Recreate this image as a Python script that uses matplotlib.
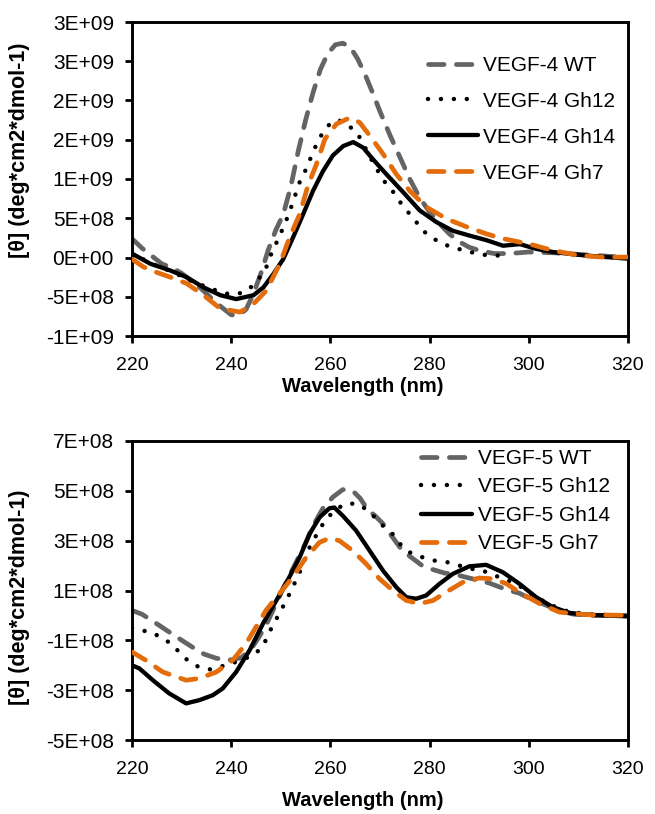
import matplotlib
matplotlib.use("Agg")
import matplotlib.pyplot as plt
import numpy as np

plt.rcParams['font.family'] = ['Liberation Sans', 'DejaVu Sans']

# ---------------- Top panel (VEGF-4), values in units of 1e8 ----------------
top_wt_x = [220, 222, 224, 226, 228, 230, 232, 234, 236, 238, 240, 241.5, 243, 244.5, 246, 247.5,
            249, 250.5, 252, 253.5, 255, 256.5, 258, 259.5, 261, 262.5, 264, 265.5, 267, 268.5,
            270, 272, 274, 276, 278, 280, 282, 284, 286, 288, 290, 293, 296, 300, 305, 310, 315, 320]
top_wt_y = [2.4, 1.2, 0.2, -0.8, -1.3, -2.0, -3.0, -4.0, -5.2, -6.3, -7.3, -7.4, -6.6, -4.6, -2.0, 1.0,
            3.5, 5.5, 9.0, 13.5, 17.5, 21.0, 24.0, 26.0, 27.1, 27.3, 26.8, 25.3, 23.3, 21.0,
            18.6, 15.6, 12.8, 10.0, 7.6, 5.8, 4.3, 3.0, 2.0, 1.3, 0.9, 0.5, 0.5, 0.7, 0.6, 0.4, 0.2, 0.0]

top_gh12_x = [220, 224, 228, 232, 236, 239, 241, 243, 244.5, 245.8, 247.1, 248.1, 249.2, 250.2, 251.2,
              252.2, 253, 253.8, 254.9, 255.9, 256.9, 257.9, 259.2, 260.9, 262, 263, 264, 265, 266,
              267, 268, 269, 270, 271, 272.5, 274, 275.5, 277, 278.5, 280.5, 282.5, 284.5, 287,
              289.5, 292, 294.5]
top_gh12_y = [0.5, -0.8, -1.8, -3.0, -4.0, -4.6, -4.7, -4.3, -3.5, -2.5, -1.2, 0.5, 2.0, 3.4, 4.9,
              6.6, 8.1, 9.6, 11.0, 12.5, 14.0, 15.3, 16.6, 17.5, 17.4, 17.0, 16.6, 16.2, 15.2,
              14.0, 12.8, 11.6, 10.6, 9.6, 8.5, 7.1, 5.9, 4.8, 3.5, 2.5, 1.8, 1.3, 0.9,
              0.5, 0.25, 0.25]

top_gh14_x = [220, 223.7, 227.7, 231, 234.4, 237.8, 241, 244.5, 246.5, 248.5, 250.5, 252.5, 254.5,
              256.5, 258.5, 260.5, 262.6, 264.6, 266.6, 268.6, 271.3, 274.7, 278, 281.4, 284.7,
              288, 291.5, 294.8, 298.2, 301.5, 304.8, 311.5, 320]
top_gh14_y = [0.5, -0.8, -1.65, -2.5, -3.8, -4.8, -5.3, -4.8, -3.8, -2.1, -0.2, 2.6, 5.5,
              8.5, 11.0, 13.0, 14.2, 14.7, 14.0, 12.5, 10.6, 8.3, 6.0, 4.5, 3.4,
              2.8, 2.2, 1.5, 1.7, 1.1, 0.7, 0.25, -0.15]

top_gh7_x = [220, 222.3, 225, 227.7, 231, 234.4, 237.8, 241.8, 244.5, 247.1, 249.8, 251.8, 253.8,
             255.5, 257.2, 258.9, 261.2, 263.9, 265.9, 268.2, 270.6, 273.3, 276, 279.4, 283.5,
             287.5, 291.5, 294.8, 300.2, 304.8, 310.2, 314.9, 320]
top_gh7_y = [-0.2, -1.2, -1.9, -2.5, -3.3, -4.8, -6.5, -6.95, -5.9, -4.2, -0.8, 2.6, 5.5,
             9.2, 11.9, 15.1, 17.0, 17.8, 17.2, 15.3, 13.2, 10.6, 8.5, 6.4, 4.9,
             3.9, 3.0, 2.4, 1.7, 0.9, 0.25, 0.05, 0.05]

top_yticks = [-1e9, -5e8, 0, 5e8, 1e9, 1.5e9, 2e9, 2.5e9, 3e9]
top_yticklabels = ['-1E+09', '-5E+08', '0E+00', '5E+08', '1E+09', '2E+09', '2E+09', '3E+09', '3E+09']
top_labels = ['VEGF-4 WT', 'VEGF-4 Gh12', 'VEGF-4 Gh14', 'VEGF-4 Gh7']

# ---------------- Bottom panel (VEGF-5), values in units of 1e8 ----------------
bot_wt_x = [220, 222, 224.5, 227, 229.5, 232, 234.5, 237, 239.5, 242, 244, 245.5, 247, 249, 251,
            253, 255, 256.5, 258.5, 260.5, 262.5, 264.5, 266, 267.5, 269, 270.5, 272.5, 274.5,
            276.5, 278.5, 280.5, 283, 285, 288, 290, 292, 294, 296, 298, 300, 303, 306, 309, 312, 320]
bot_wt_y = [0.2, 0.05, -0.27, -0.6, -0.93, -1.25, -1.55, -1.72, -1.8, -1.7, -1.35, -0.9, -0.4, 0.45, 1.3,
            2.1, 2.9, 3.6, 4.3, 4.75, 5.05, 5.0, 4.7, 4.25, 4.0, 3.7, 3.15, 2.6,
            2.3, 2.0, 1.85, 1.7, 1.65, 1.5, 1.4, 1.3, 1.15, 1.0, 0.9, 0.7, 0.45, 0.2, 0.05, 0.0, 0.0]

bot_gh12_x = [220, 222, 224.2, 226.2, 227.9, 229.5, 231.2, 233.2, 235.6, 238, 240.5, 242.5, 244.5,
              246.4, 247.4, 248.5, 249.7, 250.9, 252.1, 253.8, 255.8, 257.1, 258.5, 259.8, 261.5,
              263.2, 265.5, 267.5, 270.6, 272.3, 274.6, 276, 278.6, 281, 283.7, 286, 288.4, 290.7,
              293.1, 295.1, 298, 301, 304, 308, 312, 318, 320]
bot_gh12_y = [-0.5, -0.6, -0.7, -0.93, -1.13, -1.47, -1.8, -2.04, -2.17, -2.05, -1.9, -1.75, -1.6,
              -1.24, -0.8, -0.35, 0.07, 0.53, 1.0, 1.73, 2.73, 3.2, 3.67, 4.0, 4.3,
              4.5, 4.47, 4.23, 3.6, 3.33, 2.73, 2.53, 2.33, 2.2, 2.13, 2.0, 1.87, 1.8,
              1.6, 1.47, 1.2, 0.8, 0.45, 0.15, 0.05, 0.0, 0.0]

bot_gh14_x = [220, 221.5, 224.2, 227.5, 230.9, 233.6, 236.3, 238.3, 241, 243.7, 246.4, 249.1, 251.7,
              253.8, 255.8, 257.8, 259.8, 260.8, 262.5, 265.2, 267.9, 270.6, 273.3, 275.3, 277.3,
              279.3, 282, 284.7, 288, 291.4, 294.8, 298.1, 301.5, 304.9, 308.2, 311.6, 320]
bot_gh14_y = [-2.0, -2.13, -2.6, -3.13, -3.53, -3.4, -3.2, -2.93, -2.27, -1.4, -0.33, 0.6, 1.53,
              2.33, 3.27, 3.93, 4.3, 4.33, 4.0, 3.4, 2.6, 1.8, 1.13, 0.73, 0.67,
              0.8, 1.27, 1.67, 1.97, 2.03, 1.73, 1.27, 0.73, 0.33, 0.1, 0.03, -0.04]

bot_gh7_x = [220, 222.8, 226.2, 230.9, 233.6, 237, 240.3, 243, 245, 247, 249.7, 252.4, 255.1,
             257.8, 259.8, 261.8, 264.5, 267.2, 269.9, 272.6, 275.3, 278, 280.7, 283.3, 286.7,
             290, 292.8, 295.5, 298.1, 302.2, 306.2, 311.6, 320]
bot_gh7_y = [-1.47, -1.8, -2.27, -2.6, -2.53, -2.27, -1.8, -1.13, -0.47, 0.2, 0.87, 1.53, 2.33,
             2.93, 3.1, 3.0, 2.6, 2.07, 1.47, 1.0, 0.6, 0.47, 0.6, 0.93, 1.33,
             1.5, 1.47, 1.27, 0.93, 0.47, 0.13, 0.03, 0.0]

bot_yticks = [-5e8, -3e8, -1e8, 1e8, 3e8, 5e8, 7e8]
bot_yticklabels = ['-5E+08', '-3E+08', '-1E+08', '1E+08', '3E+08', '5E+08', '7E+08']
bot_labels = ['VEGF-5 WT', 'VEGF-5 Gh12', 'VEGF-5 Gh14', 'VEGF-5 Gh7']

xticks = [220, 240, 260, 280, 300, 320]
xticklabels = ['220', '240', '260', '280', '300', '320']
xlabel = 'Wavelength (nm)'
ylabel = '[θ] (deg*cm2*dmol-1)'

GRAY = '#646464'
ORANGE = '#E46C0A'
SCALE = 1e8

fig = plt.figure(figsize=(6.55, 8.14), dpi=100)
ax1 = fig.add_axes([132/655, 1 - 336/814, 496/655, 314/814])
ax2 = fig.add_axes([132/655, 1 - 740/814, 496/655, 299/814])


def draw(ax, series, labels):
    styles = [
        dict(color=GRAY, lw=3.4, linestyle=(0, (3.3, 2.6)), dash_capstyle='round', zorder=2),
        dict(color='black', lw=3.2, linestyle=(0, (0.01, 2.9)), dash_capstyle='round', zorder=3),
        dict(color='black', lw=3.1, linestyle='-', solid_capstyle='round', zorder=4),
        dict(color=ORANGE, lw=3.4, linestyle=(0, (3.3, 2.6)), dash_capstyle='round', zorder=5),
    ]
    handles = []
    for (x, y), st, lab in zip(series, styles, labels):
        h, = ax.plot(x, np.asarray(y) * SCALE, label=lab, **st)
        handles.append(h)
    return handles


def style(ax, yticks, yticklabels, ylim, ylab_y, xlab_y, xpad):
    ax.set_xlim(220, 320)
    ax.set_ylim(*ylim)
    ax.set_xticks(xticks)
    ax.set_xticklabels(xticklabels)
    ax.set_yticks(yticks)
    ax.set_yticklabels(yticklabels)
    for s in ax.spines.values():
        s.set_linewidth(2.1)
    ax.tick_params(axis='both', direction='out', length=5, width=2.0)
    ax.tick_params(axis='x', pad=xpad, labelsize=14)
    ax.tick_params(axis='y', pad=8, labelsize=15)
    ax.set_xlabel(xlabel, fontsize=14.5, fontweight='bold')
    ax.set_ylabel(ylabel, fontsize=15.5, fontweight='bold')
    ax.xaxis.set_label_coords(0.466, xlab_y)
    ax.yaxis.set_label_coords(-0.2056, ylab_y)


h1 = draw(ax1, [(top_wt_x, top_wt_y), (top_gh12_x, top_gh12_y),
                (top_gh14_x, top_gh14_y), (top_gh7_x, top_gh7_y)], top_labels)
style(ax1, top_yticks, top_yticklabels, (-1e9, 3e9), 0.592, -0.131, 10)
ax1.legend(handles=h1, loc='upper left', bbox_to_anchor=(0.597, 0.892), frameon=False,
           borderpad=0, borderaxespad=0, handlelength=2.4, handletextpad=0.25,
           labelspacing=0.81, prop={'size': 15})

h2 = draw(ax2, [(bot_wt_x, bot_wt_y), (bot_gh12_x, bot_gh12_y),
                (bot_gh14_x, bot_gh14_y), (bot_gh7_x, bot_gh7_y)], bot_labels)
style(ax2, bot_yticks, bot_yticklabels, (-5e8, 7e8), 0.478, -0.17, 10)
ax2.legend(handles=h2, loc='upper left', bbox_to_anchor=(0.582, 0.973), frameon=False,
           borderpad=0, borderaxespad=0, handlelength=2.45, handletextpad=0.28,
           labelspacing=0.45, prop={'size': 15})

fig.savefig('out.png', dpi=100)
